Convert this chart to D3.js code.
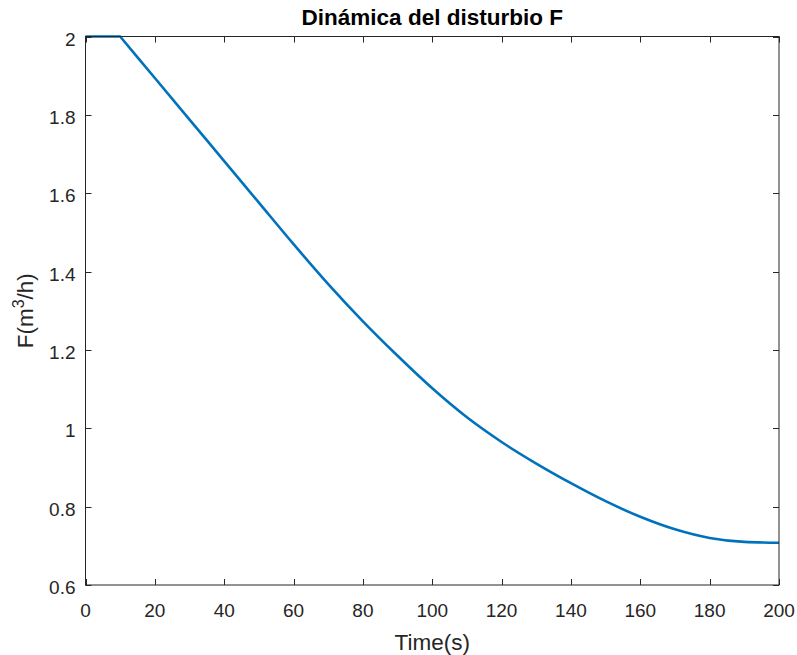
<!DOCTYPE html>
<html>
<head>
<meta charset="utf-8">
<script src="https://cdn.jsdelivr.net/npm/d3@7"></script>
<style>
  body { margin: 0; background: #fff; }
  text { font-family: "Liberation Sans", Arial, sans-serif; fill: #262626; }
</style>
</head>
<body>
<script>
// values
const time = [0, 10, 20, 30, 40, 50, 60, 70, 80, 90, 100, 110, 120, 130, 140, 150, 160, 170, 180, 190, 200];
const flow = [2.0, 2.0, 1.894, 1.788, 1.682, 1.576, 1.470, 1.368, 1.273, 1.185, 1.102, 1.028, 0.965, 0.910, 0.860, 0.814, 0.774, 0.742, 0.720, 0.710, 0.708];
const xTicks = [0, 20, 40, 60, 80, 100, 120, 140, 160, 180, 200];
const yTicks = [0.6, 0.8, 1, 1.2, 1.4, 1.6, 1.8, 2];

const width = 797, height = 655;
const margin = { top: 36.5, right: 18, bottom: 70, left: 85.5 };

const svg = d3.select("body").append("svg")
  .attr("width", width)
  .attr("height", height);

const x = d3.scaleLinear().domain([0, 200]).range([margin.left, width - margin.right]);
const y = d3.scaleLinear().domain([0.6, 2]).range([height - margin.bottom, margin.top]);

const data = time.map((t, i) => ({ t, v: flow[i] }));

// flat part straight, the rest smooth
const flat = data.filter(d => d.t <= 10);
const rest = data.filter(d => d.t >= 10);

const lineFlat = d3.line().x(d => x(d.t)).y(d => y(d.v));
const lineRest = d3.line().x(d => x(d.t)).y(d => y(d.v)).curve(d3.curveMonotoneX);

svg.append("path")
  .attr("d", lineFlat(flat) + lineRest(rest).replace(/^M[^A-Za-z]*/, "L" + x(10) + "," + y(2)))
  .attr("fill", "none")
  .attr("stroke", "#0072BD")
  .attr("stroke-width", 2.6)
  .attr("stroke-linejoin", "round");

const axisColor = "#262626";
const tickLen = 6;

// box
svg.append("rect")
  .attr("x", x(0))
  .attr("y", y(2))
  .attr("width", x(200) - x(0))
  .attr("height", y(0.6) - y(2))
  .attr("fill", "none")
  .attr("stroke", axisColor)
  .attr("stroke-width", 1);

// x ticks (bottom + top, inward)
const xt = svg.append("g");
xTicks.forEach(t => {
  const px = Math.round(x(t)) + 0.5;
  xt.append("line").attr("x1", px).attr("x2", px)
    .attr("y1", y(0.6)).attr("y2", y(0.6) - tickLen).attr("stroke", axisColor);
  xt.append("line").attr("x1", px).attr("x2", px)
    .attr("y1", y(2)).attr("y2", y(2) + tickLen).attr("stroke", axisColor);
  xt.append("text")
    .attr("x", x(t))
    .attr("y", y(0.6) + 32)
    .attr("text-anchor", "middle")
    .attr("font-size", 19)
    .text(t);
});

// y ticks (left + right, inward)
const yt = svg.append("g");
yTicks.forEach(v => {
  const py = Math.round(y(v)) + 0.5;
  yt.append("line").attr("x1", x(0)).attr("x2", x(0) + tickLen)
    .attr("y1", py).attr("y2", py).attr("stroke", axisColor);
  yt.append("line").attr("x1", x(200)).attr("x2", x(200) - tickLen)
    .attr("y1", py).attr("y2", py).attr("stroke", axisColor);
  yt.append("text")
    .attr("x", x(0) - 10)
    .attr("y", y(v) + 9)
    .attr("text-anchor", "end")
    .attr("font-size", 19)
    .text(v);
});

// title
svg.append("text")
  .attr("x", (x(0) + x(200)) / 2)
  .attr("y", 25)
  .attr("text-anchor", "middle")
  .attr("font-size", 22.5)
  .attr("font-weight", "bold")
  .style("fill", "#000")
  .text("Dinámica del disturbio F");

// x label
svg.append("text")
  .attr("x", (x(0) + x(200)) / 2)
  .attr("y", 650)
  .attr("text-anchor", "middle")
  .attr("font-size", 22.5)
  .text("Time(s)");

// y label with superscript
const yl = svg.append("text")
  .attr("transform", `translate(33,${(y(0.6) + y(2)) / 2}) rotate(-90)`)
  .attr("text-anchor", "middle")
  .attr("font-size", 22.5);
yl.append("tspan").text("F(m");
yl.append("tspan").attr("dy", -9).attr("font-size", 16).text("3");
yl.append("tspan").attr("dy", 9).text("/h)");
</script>
</body>
</html>
